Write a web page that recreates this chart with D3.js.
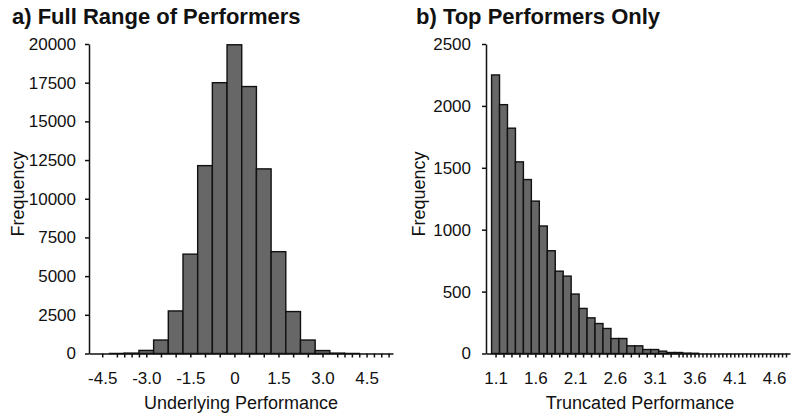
<!DOCTYPE html>
<html>
<head>
<meta charset="utf-8">
<script src="https://cdn.jsdelivr.net/npm/d3@7"></script>
<style>
  body { margin: 0; background: #fff; }
  svg { display: block; font-family: "Liberation Sans", Arial, sans-serif; }
  .axis text { font-size: 17px; fill: #111; font-family: "Liberation Sans", Arial, sans-serif; }
  .axis path, .axis line { stroke: #111; stroke-width: 1.5; }
</style>
</head>
<body>
<svg id="chart" width="791" height="419"></svg>
<script>
'use strict';

// a) full range: bin centres (width 0.5) and counts
const fullBins = [-4.0, -3.5, -3.0, -2.5, -2.0, -1.5, -1.0, -0.5, 0, 0.5, 1.0, 1.5, 2.0, 2.5, 3.0, 3.5, 4.0];
const fullCounts = [3, 25, 200, 870, 2750, 6420, 12140, 17500, 19950, 17250, 11930, 6580, 2710, 870, 190, 25, 3];
const fullYTicks = [0, 2500, 5000, 7500, 10000, 12500, 15000, 17500, 20000];
const fullXLabels = [-4.5, -3.0, -1.5, 0, 1.5, 3.0, 4.5];
const fullXTicks = [-4.5, -4.0, -3.75, -3.5, -3.25, -3.0, -2.5, -2.0, -1.5, -1.0, -0.5, 0, 0.5, 1.0, 1.5, 2.0, 2.5, 3.0,
    3.5, 3.75, 4.0, 4.25, 4.5, 4.75, 5.0, 5.25];

// b) top performers: bin centres (width 0.1) and counts
const topBins = [1.1, 1.2, 1.3, 1.4, 1.5, 1.6, 1.7, 1.8, 1.9, 2.0, 2.1, 2.2, 2.3, 2.4, 2.5, 2.6, 2.7, 2.8, 2.9, 3.0,
    3.1, 3.2, 3.3, 3.4, 3.5, 3.6];
const topCounts = [2250, 2010, 1820, 1548, 1405, 1231, 1030, 830, 665, 625, 480, 364, 288, 242, 202, 121, 121, 62, 62,
    32, 32, 19, 8, 8, 3, 2];
const topYTicks = [0, 500, 1000, 1500, 2000, 2500];
const topXLabels = [1.1, 1.6, 2.1, 2.6, 3.1, 3.6, 4.1, 4.6];

const svg = d3.select('#chart');
const barFill = '#676767';

function panel(opts) {
    const g = svg.append('g');

    const x = d3.scaleLinear().domain(opts.xDomain).range(opts.xRange);
    const y = d3.scaleLinear().domain([0, opts.yMax]).range([353.5, 44]);

    // bars
    g.selectAll('.bar')
        .data(opts.bins.map((b, i) => ({b, v: opts.counts[i]})))
        .enter()
        .append('rect')
        .attr('class', 'bar')
        .attr('x', (d) => x(d.b - opts.binW / 2))
        .attr('width', (d) => x(d.b + opts.binW / 2) - x(d.b - opts.binW / 2))
        .attr('y', (d) => y(d.v))
        .attr('height', (d) => y(0) - y(d.v))
        .style('fill', barFill)
        .style('stroke', '#111')
        .style('stroke-width', 1.4);

    // y axis
    g.append('g')
        .attr('class', 'axis')
        .attr('transform', `translate(${opts.xRange[0]},0)`)
        .call(d3.axisLeft(y).tickValues(opts.yTicks).tickSize(4).tickSizeOuter(0).tickPadding(opts.yPad).tickFormat(d3.format('d')));

    // x axis ticks
    g.append('g')
        .attr('class', 'axis')
        .attr('transform', `translate(0,${y(0)})`)
        .call(d3.axisBottom(x).tickValues(opts.xTicks).tickSize(4).tickSizeOuter(0).tickFormat(''));

    // x axis labels
    const lab = g.append('g')
        .attr('class', 'axis')
        .attr('transform', `translate(0,${y(0)})`)
        .call(d3.axisBottom(x).tickValues(opts.xLabels).tickSize(0).tickPadding(18).tickFormat(opts.xFormat));
    lab.select('.domain').remove();

    // titles
    svg.append('text')
        .attr('x', opts.titleX)
        .attr('y', 24)
        .style('font-size', '22px')
        .style('font-weight', 'bold')
        .style('fill', '#111')
        .text(opts.title);

    svg.append('text')
        .attr('x', (opts.xRange[0] + opts.xRange[1]) / 2 + opts.xTitleShift)
        .attr('y', 409)
        .attr('text-anchor', 'middle')
        .style('font-size', '18px')
        .style('fill', '#111')
        .text(opts.xTitle);

    svg.append('text')
        .attr('transform', `translate(${opts.yTitleX},194) rotate(-90)`)
        .attr('text-anchor', 'middle')
        .style('font-size', '18px')
        .style('fill', '#111')
        .text('Frequency');
}

panel({
    bins: fullBins, counts: fullCounts, binW: 0.5,
    xDomain: [-4.95, 5.4], xRange: [89, 393],
    yMax: 20000, yTicks: fullYTicks, yPad: 9,
    xTicks: fullXTicks, xLabels: fullXLabels,
    xFormat: (d) => d === 0 ? '0' : d3.format('.1f')(d).replace('−', '-'),
    title: 'a) Full Range of Performers', titleX: 12,
    xTitle: 'Underlying Performance', xTitleShift: 0, yTitleX: 24
});

panel({
    bins: topBins, counts: topCounts, binW: 0.1,
    xDomain: [0.98, 4.8], xRange: [486, 790],
    yMax: 2500, yTicks: topYTicks, yPad: 11,
    xTicks: d3.range(1.1, 3.45, 0.1).concat(d3.range(3.45, 4.8, 0.05)),
    xLabels: topXLabels,
    xFormat: d3.format('.1f'),
    title: 'b) Top Performers Only', titleX: 416,
    xTitle: 'Truncated Performance', xTitleShift: 2, yTitleX: 425
});
</script>
</body>
</html>
